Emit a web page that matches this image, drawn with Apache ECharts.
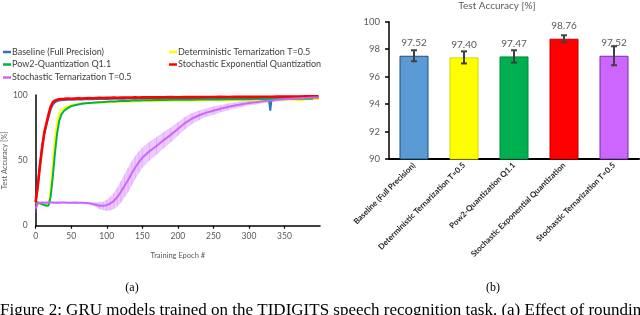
<!DOCTYPE html>
<html><head><meta charset="utf-8">
<script src="https://cdn.jsdelivr.net/npm/echarts@6/dist/echarts.min.js"></script>
<style>html,body{margin:0;padding:0;background:#fff}#c{width:640px;height:315px}</style>
</head><body><div id="c"></div>
<script>
// ---------- Left chart data ----------
const epochs = [0,3,6,9,12,15,18,21,24,27,30,33,36,40,45,50,55,60,65,70,75,80,85,90,95,100,105,110,115,120,125,130,135,140,145,150,160,170,180,190,200,210,220,230,240,250,260,270,280,290,300,310,320,328,330,332,340,350,360,370,380,390,398];
const baseline = [18,30,47,61,70,77,83,89,92.5,94.3, 95.3,95.8,96,96.2,96.3,96.5,96.4,96.7,96.6,96.8, 96.9,96.8,97,97,97.1,97,97.2,97.1,97.2,97.3, 97.2,97.3,97.3,97.2,97.4,97.3,97.4,97.4,97.5,97.4, 97.5,97.5,97.6,97.5,97.6,97.6,97.7,97.6,97.7,97.7, 97.8,97.7,97.8,97.8,88,97.7,97.8,97.9,97.9,98, 98,98.1,98.1];
const detTern = [18,17.5,17,16.5,16,16,16.5,27,47,66, 79,85.5,88.5,90.2,91.3,92.2,92.8,93.1,93.6,93.4, 94,93.8,94.2,94.5,94.1,94.6,94.8,94.5,95,94.9, 95.1,95.3,94.8,95.4,95.2,95.5,95.6,95.3,95.8,95.6, 95.9,95.7,96,95.8,96.1,95.9,96.2,96,96.3,96.1, 96.4,96.2,96.5,96.4,96.5,96.3,96.6,96.5,96.7,95.8, 96.8,96.9,97];
const pow2 = [18,17.8,17.2,16.6,15.8,15.3,15.5,22,37,55, 70,80,85,88,90,91.5,92.2,92.8,93.3,93.6, 93.9,94,94.3,94.5,94.6,94.8,95,95.1,95.2,95.4, 95.5,95.5,95.7,95.8,95.8,95.9,96,96.1,96.2,96.3, 96.3,96.4,96.4,96.5,96.5,96.6,96.6,96.7,96.7,96.8, 96.8,96.9,96.9,96.9,97,96.9,97,97,97.1,97.1, 97.1,97.2,null];
const stochExp = [18,31,46,59,71,78,85,91,94.5,95.7, 96.3,96.7,96.9,97,97.2,97.1,97.3,97.4,97.3,97.5, 97.6,97.5,97.7,97.8,97.7,97.9,97.8,98,97.9,98, 98.1,98,98.1,98.2,98.1,98.2,98.3,98.2,98.3,98.4, 98.3,98.4,98.5,98.4,98.5,98.5,98.6,98.5,98.6,98.6, 98.7,98.6,98.7,98.7,98.8,98.7,98.8,98.8,98.9,98.9, 99,99,99.1];
const stochTern = [13,17,17.6,17.7,17.6,17.7,17.6,17.7,17.7,17.6, 17.7,17.6,17.7,17.7,17.6,17.6,17.7,17.6,17.5,17.4, 17.2,16.6,16,15.3,15.2,15.7,17,19,22,26, 30.5,35,40,44.5,48.5,52,57,61,65.5,69.5, 74,78.5,82,84.5,86.5,88,89.5,90.8,92,93, 93.8,94.5,95.2,95.6,95.7,95.8,96.3,96.8,97.2,97.5, 97.8,98,98];
const stochTernErr = [3,1,0.5,0.5,0.5,0.5,0.5,0.5,0.5,0.5, 0.5,0.5,0.5,0.5,0.5,0.5,0.5,0.5,0.5,0.5, 0.6,1,1.5,2.5,3,4,5,6,7,8, 8.5,9,9,8.5,8,7.5,7,6.5,6,5.5, 5,4.5,4,3.5,3,3,2.5,2.5,2,2, 1.5,1.5,1.2,1,1,1,1,1,0.8,0.8, 0.8,0.8,0.8];
const lineNames = ['Baseline (Full Precision)','Deterministic Ternarization T=0.5','Pow2-Quantization Q1.1','Stochastic Exponential Quantization','Stochastic Ternarization T=0.5'];
const lineColors = ['#2e75b6','#ffff00','#00b050','#ff0000','#cc66ff'];

// ---------- Right chart data ----------
const barCategories = ['Baseline (Full Precision)','Deterministic Ternarization T=0.5','Pow2-Quantization Q1.1','Stochastic Exponential Quantization','Stochastic Ternarization T=0.5'];
const barValues = [97.52, 97.40, 97.47, 98.76, 97.52];
const barErrors = [0.40, 0.44, 0.45, 0.25, 0.69];
const barColors = ['#5b9bd5','#ffff00','#00b050','#ff0000','#cc66ff'];
const barBorders = ['#1f4e79','#d6d600','#00873c','#c00000','#7030a0'];

const FONT = 'Lato, "Liberation Sans", sans-serif';
const pair = arr => epochs.map((e,i)=>[e, arr[i]]);

const lineSeries = [baseline, detTern, pow2, stochExp, stochTern].map((arr,k)=>({
  name: lineNames[k], type:'line', xAxisIndex:0, yAxisIndex:0, data: pair(arr),
  showSymbol:false, symbol:'none', connectNulls:false,
  lineStyle:{color: lineColors[k], width: k===3?2.6:2}, itemStyle:{color: lineColors[k]},
  z: [3,2,4,5,6][k]
}));

const legendRows = [[3,47.5],[169,47.5],[3,60],[169,60],[3,73]];
const legends = lineNames.map((n,k)=>({
  data:[n], left: legendRows[k][0], top: legendRows[k][1], icon:'rect', itemWidth:8, itemHeight:2.5,
  itemGap:0, padding:0, textStyle:{fontSize:9, color:'#404040', fontFamily:FONT, padding:[0,0,0,-4]},
  selectedMode:false
}));

const option = {
  animation:false,
  legend: legends,
  grid:[
    {left:30, top:95, width:290, height:130.7},
    {left:389, top:21.7, width:250, height:137.3}
  ],
  xAxis:[
    {type:'value', gridIndex:0, min:0, max:400, interval:50,
     axisLine:{lineStyle:{color:'#000', width:1.5}},
     axisTick:{show:true, length:3, lineStyle:{color:'#000', width:1.2}},
     axisLabel:{color:'#595959', fontSize:8.5, fontFamily:FONT, margin:6, showMaxLabel:false},
     splitLine:{show:false},
     name:'Training Epoch #', nameLocation:'middle', nameGap:26,
     nameTextStyle:{color:'#595959', fontSize:7.5, fontFamily:FONT}},
    {type:'category', gridIndex:1, data: barCategories,
     axisLine:{lineStyle:{color:'#000', width:2}}, axisTick:{show:false},
     axisLabel:{rotate:45, interval:0, fontSize:8, fontWeight:'bold', color:'#262626', fontFamily:FONT, margin:5}}
  ],
  yAxis:[
    {type:'value', gridIndex:0, min:0, max:100, interval:50,
     axisLine:{show:true, lineStyle:{color:'#000', width:1.5}}, axisTick:{show:false},
     axisLabel:{color:'#595959', fontSize:8.5, fontFamily:FONT, margin:8},
     splitLine:{show:false},
     name:'Test Accuracy [%]', nameLocation:'middle', nameGap:22,
     nameTextStyle:{color:'#595959', fontSize:7.5, fontFamily:FONT}},
    {type:'value', gridIndex:1, min:90, max:100, interval:2,
     axisLine:{show:true, lineStyle:{color:'#000', width:1.5}},
     axisTick:{show:true, length:4, lineStyle:{color:'#000', width:1.5}},
     axisLabel:{color:'#595959', fontSize:9.5, fontFamily:FONT, margin:9},
     splitLine:{show:false}}
  ],
  series:[
    {type:'custom', xAxisIndex:0, yAxisIndex:0, silent:true, z:1,
     data: epochs.map((e,i)=>[e, stochTern[i], stochTernErr[i], i]),
     renderItem:(params, api)=>{
       const i = api.value(3);
       if (i >= epochs.length-1) return null;
       const a0 = api.coord([epochs[i], stochTern[i]+stochTernErr[i]]);
       const b0 = api.coord([epochs[i+1], stochTern[i+1]+stochTernErr[i+1]]);
       const b1 = api.coord([epochs[i+1], stochTern[i+1]-stochTernErr[i+1]]);
       const a1 = api.coord([epochs[i], stochTern[i]-stochTernErr[i]]);
       return {type:'polygon', shape:{points:[a0,b0,b1,a1]}, style:{fill:'rgba(204,102,255,0.35)', stroke:'rgba(204,102,255,0.35)', lineWidth:0.5}};
     }},
    ...lineSeries,
    {type:'bar', xAxisIndex:1, yAxisIndex:1, barWidth:29,
     data: barValues.map((v,i)=>({value:v, itemStyle:{color:barColors[i], borderColor:barBorders[i], borderWidth:1}})),
     label:{show:true, position:'top', distance:8, color:'#595959', fontSize:10, fontFamily:FONT,
            formatter: p => p.value.toFixed(2)}},
    {type:'custom', xAxisIndex:1, yAxisIndex:1,
     data: barValues.map((v,i)=>[i, v, barErrors[i]]),
     renderItem:(params, api)=>{
       const x = api.value(0), v = api.value(1), e = api.value(2);
       const top = api.coord([x, v+e]), bot = api.coord([x, v-e]);
       const st = {stroke:'#404040', lineWidth:2};
       return {type:'group', children:[
         {type:'line', shape:{x1:top[0], y1:top[1], x2:bot[0], y2:bot[1]}, style:st},
         {type:'line', shape:{x1:top[0]-3, y1:top[1], x2:top[0]+3, y2:top[1]}, style:st},
         {type:'line', shape:{x1:bot[0]-3, y1:bot[1], x2:bot[0]+3, y2:bot[1]}, style:st}
       ]};
     }, z:5}
  ],
  graphic:[
    {type:'text', style:{x:497, y:6, text:'Test Accuracy [%]', fill:'#595959', font:'10px '+FONT, align:'center', verticalAlign:'middle'}},
    {type:'text', style:{x:132, y:288, text:'(a)', fill:'#000', font:'12px "Liberation Serif", serif', align:'center', verticalAlign:'middle'}},
    {type:'text', style:{x:493, y:288, text:'(b)', fill:'#000', font:'12px "Liberation Serif", serif', align:'center', verticalAlign:'middle'}},
    {type:'text', style:{x:0, y:302, text:'Figure 2: GRU models trained on the TIDIGITS speech recognition task. (a) Effect of rounding', fill:'#000', font:'17px "Liberation Serif", serif', align:'left', verticalAlign:'top'}}
  ]
};
const chart = echarts.init(document.getElementById('c'), null, {renderer:'canvas'});
chart.setOption(option);
</script></body></html>
